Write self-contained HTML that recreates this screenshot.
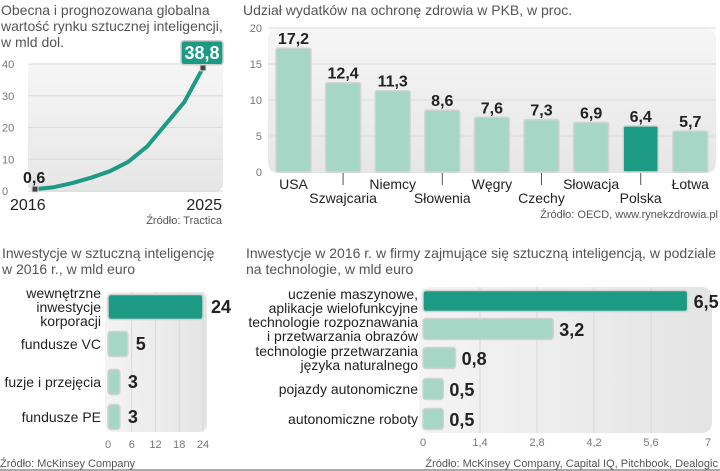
<!DOCTYPE html>
<html><head><meta charset="utf-8">
<style>
html,body{margin:0;padding:0;background:#fff;}
svg{display:block;font-family:"Liberation Sans",sans-serif;}
.t{fill:#555;font-size:14px;}
.ax{fill:#777;font-size:11px;}
.lb{fill:#222;font-size:14px;}
.v{fill:#222;font-size:16px;font-weight:bold;font-family:"Liberation Sans Narrow","Liberation Sans",sans-serif;}
.src{fill:#555;font-size:11px;}
</style></head><body>
<svg id="s" width="720" height="471" viewBox="0 0 720 471" xmlns="http://www.w3.org/2000/svg">
<defs>
<linearGradient id="bg" x1="0" y1="0" x2="0" y2="1"><stop offset="0" stop-color="#f6f6f6"/><stop offset="1" stop-color="#e6e6e6"/></linearGradient>
<linearGradient id="bgh" x1="0" y1="0" x2="1" y2="0"><stop offset="0" stop-color="#f4f4f4"/><stop offset="1" stop-color="#e4e4e4"/></linearGradient>
</defs>
<!-- chart 1 -->
<text class="t" x="1" y="15">Obecna i prognozowana globalna</text>
<text class="t" x="1" y="31">wartość rynku sztucznej inteligencji,</text>
<text class="t" x="1" y="47">w mld dol.</text>
<rect x="28" y="62" width="195" height="130" rx="8" fill="url(#bg)"/>
<g id="c1"></g>
<text x="222" y="224" class="src" text-anchor="end">Źródło: Tractica</text>
<!-- chart 2 -->
<text class="t" x="243" y="15">Udział wydatków na ochronę zdrowia w PKB, w proc.</text>
<rect x="268" y="28" width="448" height="145" rx="10" fill="url(#bg)"/>
<g id="c2"></g>
<text x="718" y="218" class="src" text-anchor="end">Źródło: OECD, www.rynekzdrowia.pl</text>
<!-- chart 3 -->
<text class="t" x="2" y="258">Inwestycje w sztuczną inteligencję</text>
<text class="t" x="2" y="274">w 2016 r., w mld euro</text>
<rect x="105" y="292" width="102" height="140" rx="8" fill="url(#bgh)"/>
<g id="c3"></g>
<text x="0" y="467" class="src">Źródło: McKinsey Company</text>
<!-- chart 4 -->
<text class="t" x="246" y="258">Inwestycje w 2016 r. w firmy zajmujące się sztuczną inteligencją, w podziale</text>
<text class="t" x="246" y="274">na technologie, w mld euro</text>
<rect x="419" y="287" width="293" height="146" rx="10" fill="url(#bgh)"/>
<g id="c4"></g>
<text x="718" y="467" class="src" text-anchor="end">Źródło: McKinsey Company, Capital IQ, Pitchbook, Dealogic</text>
<line x1="0" y1="470" x2="720" y2="470" stroke="#555" stroke-width="1"/>
</svg>
<script>
const marketYears = [2016,2017,2018,2019,2020,2021,2022,2023,2024,2025];
const marketValues = [0.6,1.2,2.5,4.2,6.2,9.2,14,21,28,38.8];
const marketTicks = [0,10,20,30,40];

const healthCountries = ["USA","Szwajcaria","Niemcy","Słowenia","Węgry","Czechy","Słowacja","Polska","Łotwa"];
const healthValues = [17.2,12.4,11.3,8.6,7.6,7.3,6.9,6.4,5.7];
const healthLabels = ["17,2","12,4","11,3","8,6","7,6","7,3","6,9","6,4","5,7"];
const healthTicks = [0,5,10,15,20];
const healthHighlight = "Polska";

const investCats = [["wewnętrzne","inwestycje","korporacji"],["fundusze VC"],["fuzje i przejęcia"],["fundusze PE"]];
const investValues = [24,5,3,3];
const investTicks = [0,6,12,18,24];

const techCats = [["uczenie maszynowe,","aplikacje wielofunkcyjne"],["technologie rozpoznawania","i przetwarzania obrazów"],["technologie przetwarzania","języka naturalnego"],["pojazdy autonomiczne"],["autonomiczne roboty"]];
const techValues = [6.5,3.2,0.8,0.5,0.5];
const techLabels = ["6,5","3,2","0,8","0,5","0,5"];
const techTicks = [0,1.4,2.8,4.2,5.6,7];

const NS="http://www.w3.org/2000/svg";
const DARK="#1d9a83", LIGHT="#a6d6c6";
function mk(parent,tag,attrs,text){const e=document.createElementNS(NS,tag);for(const k in attrs)e.setAttribute(k,attrs[k]);if(text!==undefined)e.textContent=text;parent.appendChild(e);return e;}
const fmt=v=>String(v).replace('.',',');

// chart 1
(function(){
  const g=document.getElementById('c1');
  const x=y=>35+(y-2016)*(203-35)/9;
  const yv=v=>191-v*(191-64)/40;
  marketTicks.forEach(t=>{
    const l=mk(g,'line',{x1:28,x2:223,y1:yv(t),y2:yv(t),stroke:'#dadada'});
    
    
    const tx=mk(g,'text',{x:2,y:yv(t)+4,class:'ax'},t);
    
    
  });
  const d=marketValues.map((v,i)=>(i?'L':'M')+x(marketYears[i]).toFixed(1)+','+yv(v).toFixed(1)).join('');
  const p=mk(g,'path',{d:d,fill:'none',stroke:DARK,'stroke-width':4,'stroke-linejoin':'round','stroke-linecap':'round'});
  
  
  const n=marketValues.length-1;
  [0,n].forEach(i=>{
    const m=mk(g,'rect',{x:x(marketYears[i])-3,y:yv(marketValues[i])-3,width:6,height:6,fill:'#444',stroke:'#ddd','stroke-width':1});
    
    
  });
  const a=mk(g,'text',{x:x(marketYears[0])-12,y:yv(marketValues[0])-6,class:'v'},fmt(marketValues[0]));
  
  
  const bx=x(marketYears[n]), by=yv(marketValues[n]);
  const box=mk(g,'rect',{x:bx-22,y:by-27,width:42,height:24,rx:3,fill:DARK,stroke:'#cfcfcf','stroke-width':1.5});
  
  
  const bt=mk(g,'text',{x:bx-1,y:by-9,class:'v','text-anchor':'middle',fill:'#fff',style:'fill:#fff;font-size:18px'},fmt(marketValues[n]));
  
  
  [[0,'start'],[n,'end']].forEach(([i,anc])=>{
    const t=mk(g,'text',{x:i?222:10,y:210,class:'lb','text-anchor':anc,style:'font-size:16px'},marketYears[i]);
    
    
  });
})();

// chart 2
(function(){
  const g=document.getElementById('c2');
  const yv=v=>172-v*7.2;
  const bw=35, x0=276, step=49.6;
  healthTicks.forEach(t=>{
    if(t>0){const l=mk(g,'line',{x1:268,x2:716,y1:yv(t),y2:yv(t),stroke:'#dcdcdc'});
    
    }
    const tx=mk(g,'text',{x:262,y:yv(t)+4,class:'ax','text-anchor':'end'},t);
    
    
  });
  healthValues.forEach((v,i)=>{
    const bx=x0+i*step, cx=bx+bw/2;
    const r=mk(g,'rect',{x:bx,y:yv(v),width:bw,height:172-yv(v),rx:2,fill:healthCountries[i]===healthHighlight?DARK:LIGHT,stroke:'#d4d4d4','stroke-width':1.5});
    
    
    const vt=mk(g,'text',{x:cx,y:yv(v)-4,class:'v','text-anchor':'middle'},healthLabels[i]);
    
    
    const low=i%2===1;
    if(low){const tl=mk(g,'line',{x1:cx,x2:cx,y1:173,y2:185,stroke:'#555'});
      
      }
    const ct=mk(g,'text',{x:cx,y:low?203:189,class:'lb','text-anchor':'middle'},healthCountries[i]);
    
    
  });
})();

// chart 3
(function(){
  const g=document.getElementById('c3');
  const xv=v=>108+v*95/24;
  const cy=[307,344,382,417], bh=[25,25,25,25];
  investTicks.forEach(t=>{
    if(t>0){const l=mk(g,'line',{x1:xv(t),x2:xv(t),y1:292,y2:432,stroke:'#d8d8d8'});
    
    }
    const tx=mk(g,'text',{x:xv(t),y:448,class:'ax','text-anchor':'middle'},t);
    
    
  });
  investValues.forEach((v,i)=>{
    const r=mk(g,'rect',{x:xv(0),y:cy[i]-bh[i]/2,width:xv(v)-xv(0),height:bh[i],rx:3,fill:i===0?DARK:LIGHT,stroke:'#d2d2d2','stroke-width':1.5});
    
    
    const vt=mk(g,'text',{x:xv(v)+8,y:cy[i]+6,class:'v',style:'font-size:18px'},fmt(v));
    
    
    const lines=investCats[i], lh=14, y0=cy[i]-(lines.length-1)*lh/2+5;
    lines.forEach((s,j)=>{
      const ct=mk(g,'text',{x:101,y:y0+j*lh,class:'lb','text-anchor':'end'},s);
      
      
    });
  });
})();

// chart 4
(function(){
  const g=document.getElementById('c4');
  const xv=v=>423+v*285/7;
  const cy=[301,329,358,389,419], bh=21;
  techTicks.forEach(t=>{
    if(t>0&&t<7){const l=mk(g,'line',{x1:xv(t),x2:xv(t),y1:287,y2:433,stroke:'#d8d8d8'});
    
    }
    const tx=mk(g,'text',{x:xv(t),y:446,class:'ax','text-anchor':'middle'},fmt(t));
    
    
  });
  techValues.forEach((v,i)=>{
    const r=mk(g,'rect',{x:xv(0),y:cy[i]-bh/2,width:xv(v)-xv(0),height:bh,rx:3,fill:i===0?DARK:LIGHT,stroke:'#d2d2d2','stroke-width':1.5});
    
    
    const vt=mk(g,'text',{x:xv(v)+6,y:cy[i]+7,class:'v',style:'font-size:18px'},techLabels[i]);
    
    
    const lines=techCats[i], lh=14, y0=cy[i]-(lines.length-1)*lh/2+5;
    lines.forEach((s,j)=>{
      const ct=mk(g,'text',{x:418,y:y0+j*lh,class:'lb','text-anchor':'end'},s);
      
      
    });
  });
})();
</script>
</body></html>
